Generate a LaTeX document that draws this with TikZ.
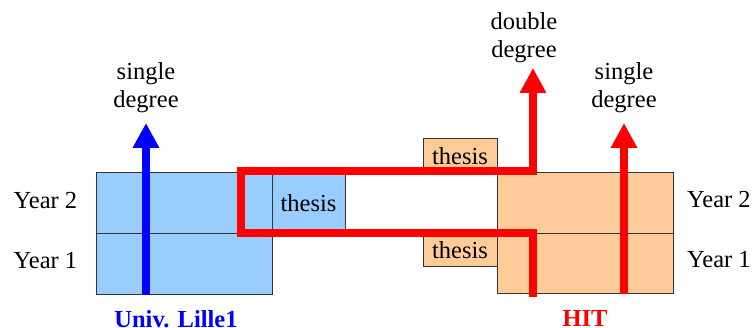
\documentclass[tikz,border=0pt]{standalone}
\usepackage{fontspec}
\setmainfont{LiberationSerif}[Extension=.ttf, UprightFont=*-Regular, BoldFont=*-Bold]
\usetikzlibrary{arrows.meta}
\definecolor{lilleblue}{HTML}{99CCFF}
\definecolor{hitorange}{HTML}{FFCC99}
\begin{document}
\begin{tikzpicture}[
        x=1pt, y=-1pt,
        font=\rmfamily\fontsize{24.5}{28}\selectfont,
        cell/.style={draw=black!80, line width=1pt, inner sep=0pt, outer sep=0pt},
        lillecell/.style={cell, fill=lilleblue},
        hitcell/.style={cell, fill=hitorange},
        upblue/.style={line width=8pt, blue, -{Triangle[width=25pt,length=25pt]}},
        upred/.style={line width=8pt, red, line join=miter, -{Triangle[width=25pt,length=25pt]}},
        deg/.style={align=center, anchor=base, inner sep=0pt},
        ]
        \useasboundingbox (0,0) rectangle (753,328);

        % Univ. Lille1 years
        \node[lillecell, minimum width=176pt, minimum height=61pt] (l2) at (184,203.5) {};
        \node[lillecell, minimum width=176pt, minimum height=61pt] (l1) at (184,264.5) {};
        \node[lillecell, minimum width=73pt, minimum height=61pt] (lthesis) at (308.5,203.5) {thesis};

        % HIT years
        \node[hitcell, minimum width=176pt, minimum height=61pt] (h2) at (585,203.5) {};
        \node[hitcell, minimum width=176pt, minimum height=60pt] (h1) at (585,264) {};
        \node[hitcell, minimum width=74pt, minimum height=34pt] (hthesis2) at (460,156) {thesis};
        \node[hitcell, minimum width=74pt, minimum height=33pt] (hthesis1) at (460,250.5) {thesis};

        % Arrow ends
        \coordinate (lsingle) at (146,123);
        \coordinate (hsingle) at (624,123);
        \coordinate (hdouble) at (533,68);
        \coordinate (hstart) at (533,297);
        \coordinate (turnlow) at (241,233);
        \coordinate (turnhigh) at (241,171);

        % Paths
        \draw[upblue] (l1.south -| lsingle) -- (lsingle);
        \draw[upred] (h1.south -| hsingle) -- (hsingle);
        \draw[upred] (hstart) |- (turnlow) -- (turnhigh) -| (hdouble);

        % Labels
        \node[deg] (lsinglelab) at (146,108) {single\\degree};
        \node[deg] (hsinglelab) at (624,108) {single\\degree};
        \node[deg] (hdoublelab) at (524,58) {double\\degree};
        \node (ly2) at (45.5,201) {Year 2};
        \node (ly1) at (45.5,261) {Year 1};
        \node (hy2) at (719,200) {Year 2};
        \node (hy1) at (719,260) {Year 1};
        \node[anchor=base, text=blue, font=\rmfamily\fontsize{24.5}{28}\selectfont\bfseries] (lille) at (176,328) {Univ. Lille1};
        \node[anchor=base, text=red, font=\rmfamily\fontsize{24.5}{28}\selectfont\bfseries] (hit) at (585,327) {HIT};
\end{tikzpicture}
\end{document}
